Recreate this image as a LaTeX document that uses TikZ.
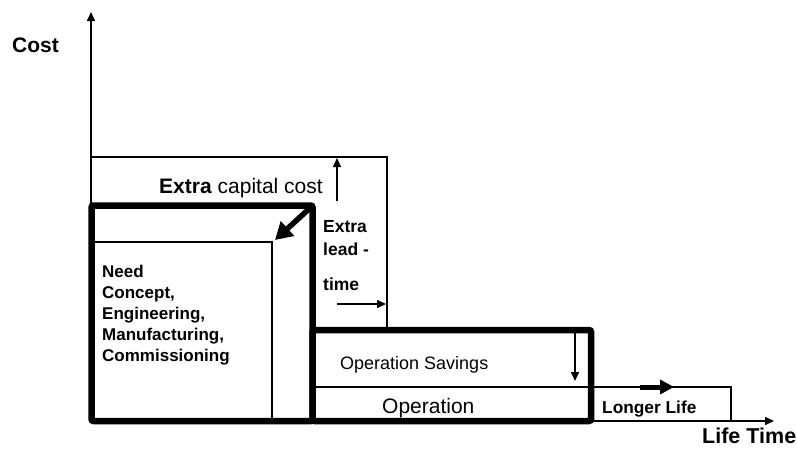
\documentclass[tikz,border=0pt]{standalone}
\usepackage{fontspec}
\setmainfont{Liberation Sans}
\usetikzlibrary{arrows.meta}

\begin{document}
\begin{tikzpicture}[
    x=1pt, y=-1pt,
    thickbox/.style={line width=6.5pt, rounded corners=2pt},
    thinln/.style={line width=1.5pt},
    arr/.style={-{Triangle[length=9pt,width=8pt]}, line width=1.5pt},
    bigarr/.style={-{Triangle[length=17pt,width=19pt]}, line width=5.5pt},
    midarr/.style={-{Triangle[length=14pt,width=14pt]}, line width=5pt},
    lbl/.style={inner sep=0pt, anchor=base west}
]
    \useasboundingbox (0,0) rectangle (797,450);

    % axes
    \coordinate (O) at (91,421);
    \coordinate (ytop) at (91,12);
    \coordinate (xend) at (774,421);
    \draw [arr] (O) -- (ytop);
    \draw [arr] (O) -- (xend);

    % thin outlines
    \coordinate (capTR) at (387,157);
    \draw [thinln] (91,157) -- (capTR) -- (387,330);
    \coordinate (innTR) at (272,242);
    \draw [thinln] (91,242) -- (innTR) -- (272,421);
    \draw [thinln] (312,387) -- (731,387) -- (731,421);

    % thick boxes
    \draw [thickbox] (91.5,205.5) rectangle (312.5,421);
    \draw [thickbox] (312.5,330) rectangle (591,421);

    % arrows
    \coordinate (bxTR) at (310,208);
    \draw [bigarr] (bxTR) -- (275,240);
    \coordinate (capA) at (337,201);
    \draw [arr] (capA) -- (337,158);
    \coordinate (leadA) at (337,304);
    \draw [arr] (leadA) -- (386,304);
    \coordinate (savA) at (575,331);
    \draw [arr] (savA) -- (575,381);
    \coordinate (lifeA) at (640,387);
    \draw [midarr] (lifeA) -- (674,387);

    % labels
    \node [lbl, font=\fontsize{21}{24}\selectfont\bfseries] (cost) at (12,52) {Cost};
    \node [lbl, font=\fontsize{21.5}{24}\selectfont\bfseries] (ltime) at (702,443) {Life Time};
    \node [lbl, font=\fontsize{21}{24}\selectfont] (xcap) at (159,193) {\textbf{Extra} capital cost};
    \node [lbl, font=\fontsize{17.5}{21}\selectfont\bfseries] (xl1) at (323,232) {Extra};
    \node [lbl, font=\fontsize{17.5}{21}\selectfont\bfseries] (xl2) at (323,255) {lead -};
    \node [lbl, font=\fontsize{17.5}{21}\selectfont\bfseries] (xl3) at (323,290) {time};
    \node [inner sep=0pt, anchor=north west, align=left, font=\fontsize{17}{21}\selectfont\bfseries] (need) at (102,265)
        {Need\\Concept,\\Engineering,\\Manufacturing,\\Commissioning};
    \node [lbl, font=\fontsize{18}{21}\selectfont] (osav) at (340,369) {Operation Savings};
    \node [lbl, font=\fontsize{21}{24}\selectfont] (oper) at (382,413) {Operation};
    \node [lbl, font=\fontsize{17.3}{21}\selectfont\bfseries] (llife) at (602,413) {Longer Life};
\end{tikzpicture}
\end{document}
